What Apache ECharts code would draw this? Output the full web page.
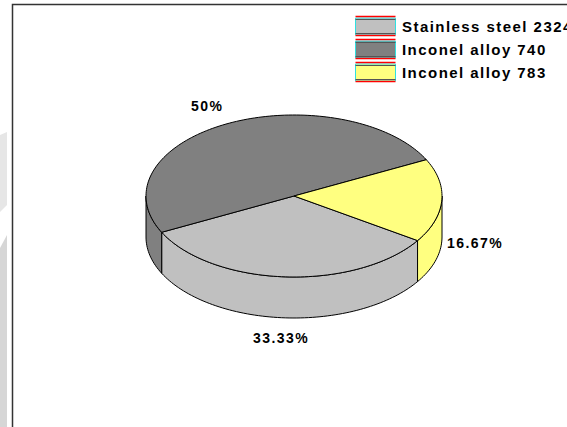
<!DOCTYPE html>
<html>
<head>
<meta charset="utf-8">
<style>
html,body{margin:0;padding:0;background:#fff;overflow:hidden}
#c{width:567px;height:427px}
#c svg text{letter-spacing:1.45px}
</style>
<script src="https://cdn.jsdelivr.net/npm/echarts@6/dist/echarts.min.js"></script>
</head>
<body>
<div id="c"></div>
<script>
var categories = ['Stainless steel 2324', 'Inconel alloy 740', 'Inconel alloy 783'];
var shares = [33.33, 50, 16.67];
var shareColors = ['#c0c0c0', '#808080', '#ffff80'];

var CX = 294, CY = 196, RX = 148, RY = 81, DEPTH = 41, START = -33.4;
var LABEL_POS = [[253, 338], [191, 106], [447, 243]];
var FONT = 'bold 14px "Liberation Sans", Arial, sans-serif';
var LEGEND_FONT = 'bold 15px "Liberation Sans", Arial, sans-serif';

var total = shares.reduce(function (a, b) { return a + b; }, 0);

function pt(deg, dy) {
  var r = deg * Math.PI / 180;
  return [CX + RX * Math.cos(r), CY - RY * Math.sin(r) + (dy || 0)];
}
function arc(a0, a1, dy) {
  var out = [], n = Math.max(2, Math.ceil(Math.abs(a1 - a0) / 1.5));
  for (var i = 0; i <= n; i++) out.push(pt(a0 + (a1 - a0) * i / n, dy));
  return out;
}
function renderItem(params, api) {
  var idx = params.dataIndex, before = 0;
  for (var i = 0; i < idx; i++) before += shares[i];
  var a0 = START - before / total * 360;
  var a1 = a0 - api.value(0) / total * 360;
  var children = [];
  var style = { fill: shareColors[idx], stroke: '#000', lineWidth: 1 };
  // visible side walls: the parts of the rim on the front half (sin < 0)
  [[-180, 0], [-540, -360]].forEach(function (w) {
    var hi = Math.min(a0, w[1]), lo = Math.max(a1, w[0]);
    if (hi > lo) {
      var top = arc(hi, lo, 0), bot = arc(lo, hi, DEPTH);
      children.push({ type: 'polygon', z2: 1, shape: { points: top.concat(bot) }, style: style });
    }
  });
  var top = [[CX, CY]].concat(arc(a0, a1, 0));
  children.push({ type: 'polygon', z2: 2, shape: { points: top }, style: style });
  children.push({
    type: 'text', z2: 3,
    x: LABEL_POS[idx][0], y: LABEL_POS[idx][1],
    style: { text: api.value(0) + '%', font: FONT, fill: '#000', align: 'left', verticalAlign: 'middle' }
  });
  return { type: 'group', children: children };
}

var SW_X = 355.5, SW_W = 40, SW_Y = [18, 41, 64], SW_H = 17;
var graphic = [
  { type: 'polygon', silent: true, shape: { points: [[0, 135], [7, 132], [7, 205], [0, 212]] }, style: { fill: '#e6e6e6' } },
  { type: 'polygon', silent: true, shape: { points: [[0, 248], [7, 235], [7, 427], [0, 427]] }, style: { fill: '#d6d6d6' } },
  { type: 'polyline', silent: true, shape: { points: [[12.5, 427], [12.5, 4.5], [567, 4.5]] }, style: { stroke: '#333', lineWidth: 1.5, fill: 'none' } }
];
categories.forEach(function (name, i) {
  var y = SW_Y[i];
  graphic.push(
    { type: 'rect', silent: true, shape: { x: SW_X, y: y, width: SW_W, height: SW_H }, style: { fill: shareColors[i], stroke: '#30e0e0', lineWidth: 1 } },
    { type: 'line', silent: true, shape: { x1: SW_X, y1: y + 1.5, x2: SW_X + SW_W, y2: y + 1.5 }, style: { stroke: '#555', lineWidth: 1 } },
    { type: 'line', silent: true, shape: { x1: SW_X, y1: y + SW_H - 1.5, x2: SW_X + SW_W, y2: y + SW_H - 1.5 }, style: { stroke: '#555', lineWidth: 1 } },
    { type: 'line', silent: true, shape: { x1: SW_X, y1: y - 1.5, x2: SW_X + SW_W, y2: y - 1.5 }, style: { stroke: '#f00', lineWidth: 1.5 } },
    { type: 'line', silent: true, shape: { x1: SW_X, y1: y + SW_H + 0.5, x2: SW_X + SW_W, y2: y + SW_H + 0.5 }, style: { stroke: '#f00', lineWidth: 1.5 } },
    { type: 'text', silent: true, x: 402, y: y + 8, style: { text: name, font: LEGEND_FONT, fill: '#000', align: 'left', verticalAlign: 'middle' } }
  );
});

var chart = echarts.init(document.getElementById('c'), null, { renderer: 'svg' });
chart.setOption({
  animation: false,
  backgroundColor: '#fff',
  graphic: graphic,
  series: [{
    type: 'custom',
    coordinateSystem: 'none',
    renderItem: renderItem,
    data: shares.map(function (v) { return [v]; })
  }]
});
</script>
</body>
</html>
